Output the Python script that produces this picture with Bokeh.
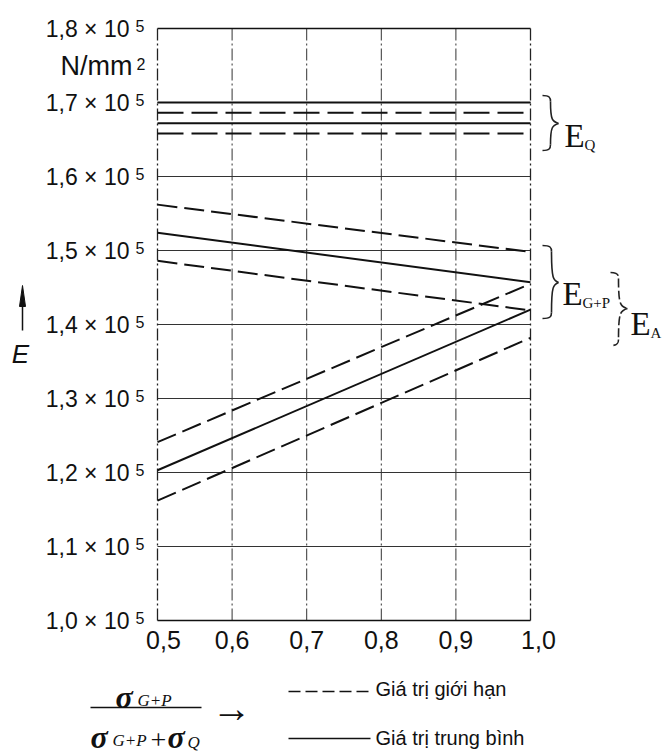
from bokeh.plotting import figure
from bokeh.models import Range1d
from bokeh.core.properties import value
from bokeh.embed import file_html
from bokeh.resources import INLINE

# ---------------- data (E in N/mm^2) ----------------
ratio = [0.5, 1.0]
EQ_mean_hi = [170000, 170000]
EQ_limit_hi = [168600, 168600]
EQ_mean_lo = [167200, 167200]
EQ_limit_lo = [165800, 165800]
GP_limit_hi = [156200, 149800]
GP_mean = [152400, 145700]
GP_limit_lo = [148600, 141900]
A_limit_hi = [124100, 145500]
A_mean = [120300, 142000]
A_limit_lo = [116200, 138200]

x_ticks = [0.5, 0.6, 0.7, 0.8, 0.9, 1.0]
x_tick_labels = ["0,5", "0,6", "0,7", "0,8", "0,9", "1,0"]
y_ticks = [100000, 110000, 120000, 130000, 140000, 150000, 160000, 170000, 180000]
y_tick_labels = ["1,0 × 10", "1,1 × 10", "1,2 × 10", "1,3 × 10", "1,4 × 10",
                 "1,5 × 10", "1,6 × 10", "1,7 × 10", "1,8 × 10"]
y_tick_exp = "5"
unit_label = "N/mm"
legend_labels = ["Giá trị giới hạn", "Giá trị trung bình"]

# ---------------- layout helpers (page pixel -> data) ----------------
W, H = 672, 754
PX0, PX1 = 157, 530      # page px of x = 0.5 / 1.0
PY_TOP, PY_BOT = 28, 620  # page px of 1.8e5 / 1.0e5


def X(px):
    return 0.5 + (px - PX0) * 0.5 / (PX1 - PX0)


def Y(py):
    return 1.0e5 + (PY_BOT - py) * 0.8e5 / (PY_BOT - PY_TOP)


def DY(dpx):  # pixel distance -> data distance (y)
    return dpx * 0.8e5 / (PY_BOT - PY_TOP)


p = figure(width=W, height=H, x_range=Range1d(X(0), X(W)), y_range=Range1d(Y(H), Y(0)),
           output_backend="svg", toolbar_location=None,
           x_axis_location=None, y_axis_location=None,
           min_border=0, min_border_left=0, min_border_right=0, min_border_top=0,
           min_border_bottom=0)
p.outline_line_color = None
p.grid.visible = False
p.background_fill_color = "white"
p.border_fill_color = "white"

SANS = "Liberation Sans"
SERIF = "Liberation Serif"
INK = "#111111"

xmin, xmax = x_ticks[0], x_ticks[-1]
ymin, ymax = y_ticks[0], y_ticks[-1]

# ---------------- grid & frame ----------------
inner_y = y_ticks[1:-1]
p.segment(x0=[xmin] * len(inner_y), x1=[xmax] * len(inner_y), y0=inner_y, y1=inner_y,
          line_color="#333333", line_width=1)
inner_x = x_ticks[1:-1]
p.segment(x0=inner_x, x1=inner_x, y0=[ymin] * len(inner_x), y1=[ymax] * len(inner_x),
          line_color="#333333", line_width=1, line_dash="12 3 2 3")
p.segment(x0=[xmin, xmax], x1=[xmin, xmax], y0=[ymin, ymin], y1=[ymax, ymax],
          line_color="#222222", line_width=1.3, line_dash="12 3 2 3")
p.segment(x0=[xmin, xmin], x1=[xmax, xmax], y0=[ymin, ymax], y1=[ymin, ymax],
          line_color="#111111", line_width=1.5)

# ---------------- data lines ----------------
for ys in [EQ_mean_hi, EQ_mean_lo, GP_mean, A_mean]:
    p.line(ratio, ys, line_color=INK, line_width=2)
for ys in [EQ_limit_hi, EQ_limit_lo]:
    p.line(ratio, ys, line_color=INK, line_width=2, line_dash="26 8")
for ys in [GP_limit_hi, GP_limit_lo, A_limit_hi, A_limit_lo]:
    p.line(ratio, ys, line_color=INK, line_width=2, line_dash="20 7")

# ---------------- tick labels ----------------
p.text(x=[X(129)] * len(y_ticks), y=y_ticks, text=y_tick_labels, text_font=value(SANS),
       text_font_size="23px", text_align="right", text_baseline="middle", text_color=INK)
p.text(x=[X(135)] * len(y_ticks), y=[v + DY(3) for v in y_ticks], text=[y_tick_exp] * len(y_ticks),
       text_font=value(SANS), text_font_size="16px", text_align="left",
       text_baseline="alphabetic", text_color=INK)
p.text(x=[X(132)], y=[Y(65)], text=[unit_label], text_font=value(SANS), text_font_size="27px",
       text_align="right", text_baseline="middle", text_color=INK)
p.text(x=[X(136)], y=[Y(63)], text=["2"], text_font=value(SANS), text_font_size="16px",
       text_align="left", text_baseline="alphabetic", text_color=INK)

x_label_shift = [6, 0, 0, 0, 0, 8]  # pixel nudges of first/last label
p.text(x=x_ticks, y=[Y(639)] * len(x_ticks), text=x_tick_labels, x_offset=x_label_shift,
       text_font=value(SANS), text_font_size="25px", text_align="center",
       text_baseline="middle", text_color=INK)

# ---------------- E axis marker ----------------
p.segment(x0=[X(22)], x1=[X(22)], y0=[Y(330)], y1=[Y(298)], line_color=INK, line_width=1.5)
p.patch(x=[X(19), X(22), X(25)], y=[Y(306), Y(285), Y(306)], fill_color=INK, line_color=INK)
p.text(x=[X(20)], y=[Y(353)], text=["E"], text_font=value(SANS), text_font_style="italic",
       text_font_size="26px", text_align="center", text_baseline="middle", text_color=INK)

# ---------------- braces ----------------


def brace(x0, xm, x1, yt, ym, yb, dash="solid"):
    r = 6
    segs = [
        ((x0, yt), (xm, yt + r), (xm - 1, yt), (xm, yt + 2)),
        ((xm, yt + r), (x1, ym), (xm, ym - 3), (xm + 2, ym - 2)),
        ((x1, ym), (xm, yb - r), (xm + 2, ym + 2), (xm, ym + 3)),
        ((xm, yb - r), (x0, yb), (xm, yb - 2), (xm - 1, yb)),
    ]
    p.bezier(x0=[X(s[0][0]) for s in segs], y0=[Y(s[0][1]) for s in segs],
             x1=[X(s[1][0]) for s in segs], y1=[Y(s[1][1]) for s in segs],
             cx0=[X(s[2][0]) for s in segs], cy0=[Y(s[2][1]) for s in segs],
             cx1=[X(s[3][0]) for s in segs], cy1=[Y(s[3][1]) for s in segs],
             line_color="#222222", line_width=1.6, line_dash=dash)


brace(542, 550, 558, 95, 123, 150)
brace(542, 551, 558, 245, 282, 318)
brace(610, 618, 627, 272, 308, 345, dash="9 3")


def sub_label(xe, base, main, sub):
    p.text(x=[X(xe)], y=[Y(base)], text=[main], text_font=value(SERIF), text_font_size="33px",
           text_align="left", text_baseline="alphabetic", text_color=INK)
    p.text(x=[X(xe + 20)], y=[Y(base + 9)], text=[sub], text_font=value(SERIF),
           text_font_size="15px", text_align="left", text_baseline="alphabetic", text_color=INK)


sub_label(564, 135, "E", "Q")
sub_label(562, 293, "E", "G+P")
sub_label(630, 323, "E", "A")

# ---------------- x axis quantity (fraction) ----------------
SIG = dict(text_font=value(SERIF), text_font_style="bold italic", text_font_size="32px",
           text_align="left", text_baseline="alphabetic", text_color=INK)
SUB = dict(text_font=value(SERIF), text_font_style="italic", text_font_size="17px",
           text_align="left", text_baseline="alphabetic", text_color=INK)
p.text(x=[X(115)], y=[Y(696)], text=["σ"], **SIG)
p.text(x=[X(137)], y=[Y(700)], text=["G+P"], **SUB)
p.segment(x0=[X(90)], x1=[X(201)], y0=[Y(707)], y1=[Y(707)], line_color=INK, line_width=1.6)
p.text(x=[X(90)], y=[Y(736)], text=["σ"], **SIG)
p.text(x=[X(112)], y=[Y(740)], text=["G+P"], **SUB)
p.text(x=[X(158)], y=[Y(739)], text=["+"], text_font=value(SERIF), text_font_size="28px",
       text_align="center", text_baseline="alphabetic", text_color=INK)
p.text(x=[X(167)], y=[Y(736)], text=["σ"], **SIG)
p.text(x=[X(187)], y=[Y(742)], text=["Q"], **SUB)
p.text(x=[X(231)], y=[Y(708)], text=["→"], text_font=value(SERIF), text_font_size="40px",
       text_align="center", text_baseline="middle", text_color=INK)

# ---------------- legend ----------------
p.segment(x0=[X(288)], x1=[X(370)], y0=[Y(691)], y1=[Y(691)], line_color=INK, line_width=1.4,
          line_dash="12 5")
p.segment(x0=[X(288)], x1=[X(370)], y0=[Y(738)], y1=[Y(738)], line_color=INK, line_width=1.4)
p.text(x=[X(375), X(375)], y=[Y(688), Y(737)], text=legend_labels, text_font=value(SANS),
       text_font_size="20px", text_align="left", text_baseline="middle", text_color=INK)

open("out.html", "w").write(file_html(p, INLINE))
